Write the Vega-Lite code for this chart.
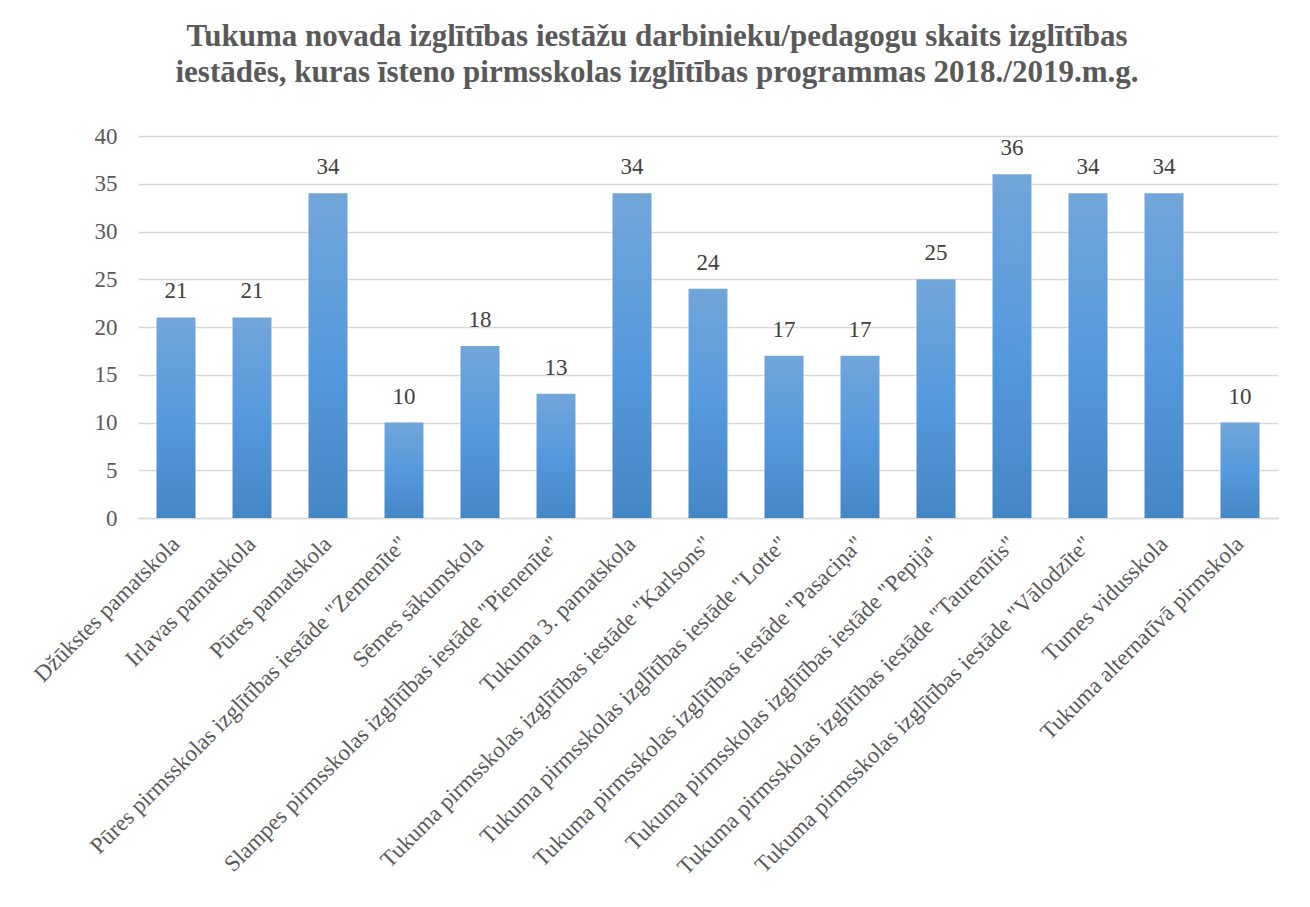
{
  "$schema": "https://vega.github.io/schema/vega-lite/v6.json",
  "width": 1140,
  "height": 382,
  "autosize": {"type": "none"},
  "padding": {"left": 138, "top": 136, "right": 32, "bottom": 389},
  "background": "white",
  "title": {
    "text": ["Tukuma novada izglītības iestāžu darbinieku/pedagogu skaits izglītības", "iestādēs, kuras īsteno pirmsskolas izglītības programmas 2018./2019.m.g."],
    "font": "Liberation Serif",
    "fontSize": 31,
    "fontWeight": "bold",
    "color": "#595959",
    "lineHeight": 36,
    "anchor": "middle",
    "dx": -51,
    "offset": 36
  },
  "config": {
    "view": {"stroke": null},
    "font": "Liberation Serif"
  },
  "data": {
    "values": [
      {"iestade": "Džūkstes pamatskola", "skaits": 21},
      {"iestade": "Irlavas pamatskola", "skaits": 21},
      {"iestade": "Pūres pamatskola", "skaits": 34},
      {"iestade": "Pūres pirmsskolas izglītības iestāde \"Zemenīte\"", "skaits": 10},
      {"iestade": "Sēmes sākumskola", "skaits": 18},
      {"iestade": "Slampes pirmsskolas izglītības iestāde \"Pienenīte\"", "skaits": 13},
      {"iestade": "Tukuma 3. pamatskola", "skaits": 34},
      {"iestade": "Tukuma pirmsskolas izglītības iestāde \"Karlsons\"", "skaits": 24},
      {"iestade": "Tukuma pirmsskolas izglītības iestāde \"Lotte\"", "skaits": 17},
      {"iestade": "Tukuma pirmsskolas izglītības iestāde \"Pasaciņa\"", "skaits": 17},
      {"iestade": "Tukuma pirmsskolas izglītības iestāde \"Pepija\"", "skaits": 25},
      {"iestade": "Tukuma pirmsskolas izglītības iestāde \"Taurenītis\"", "skaits": 36},
      {"iestade": "Tukuma pirmsskolas izglītības iestāde \"Vālodzīte\"", "skaits": 34},
      {"iestade": "Tumes vidusskola", "skaits": 34},
      {"iestade": "Tukuma alternatīvā pirmskola", "skaits": 10}
    ]
  },
  "encoding": {
    "x": {
      "field": "iestade",
      "type": "nominal",
      "sort": null,
      "scale": {"paddingInner": 0.487, "paddingOuter": 0.2435},
      "axis": {
        "title": null,
        "labelAngle": -45,
        "labelAlign": "right",
        "labelBaseline": "middle",
        "labelFont": "Liberation Serif",
        "labelFontSize": 23,
        "labelColor": "#595959",
        "labelPadding": 22,
        "labelLimit": 700,
        "ticks": false,
        "domainColor": "#d9d9d9",
        "domainWidth": 1.5,
        "labelOverlap": false
      }
    },
    "y": {
      "field": "skaits",
      "type": "quantitative",
      "scale": {"domain": [0, 40]},
      "axis": {
        "title": null,
        "values": [0, 5, 10, 15, 20, 25, 30, 35, 40],
        "labelFont": "Liberation Serif",
        "labelFontSize": 23,
        "labelColor": "#595959",
        "labelPadding": 21,
        "ticks": false,
        "domain": false,
        "gridColor": "#d9d9d9",
        "gridWidth": 1.5
      }
    }
  },
  "layer": [
    {
      "mark": {
        "type": "bar",
        "color": {
          "gradient": "linear",
          "x1": 0, "y1": 0, "x2": 0, "y2": 1,
          "stops": [
            {"offset": 0, "color": "#72a6da"},
            {"offset": 0.5, "color": "#559add"},
            {"offset": 1, "color": "#4487c6"}
          ]
        }
      }
    },
    {
      "mark": {
        "type": "text",
        "baseline": "bottom",
        "dy": -14,
        "font": "Liberation Serif",
        "fontSize": 23,
        "color": "#404040"
      },
      "encoding": {"text": {"field": "skaits", "type": "quantitative"}}
    }
  ]
}
